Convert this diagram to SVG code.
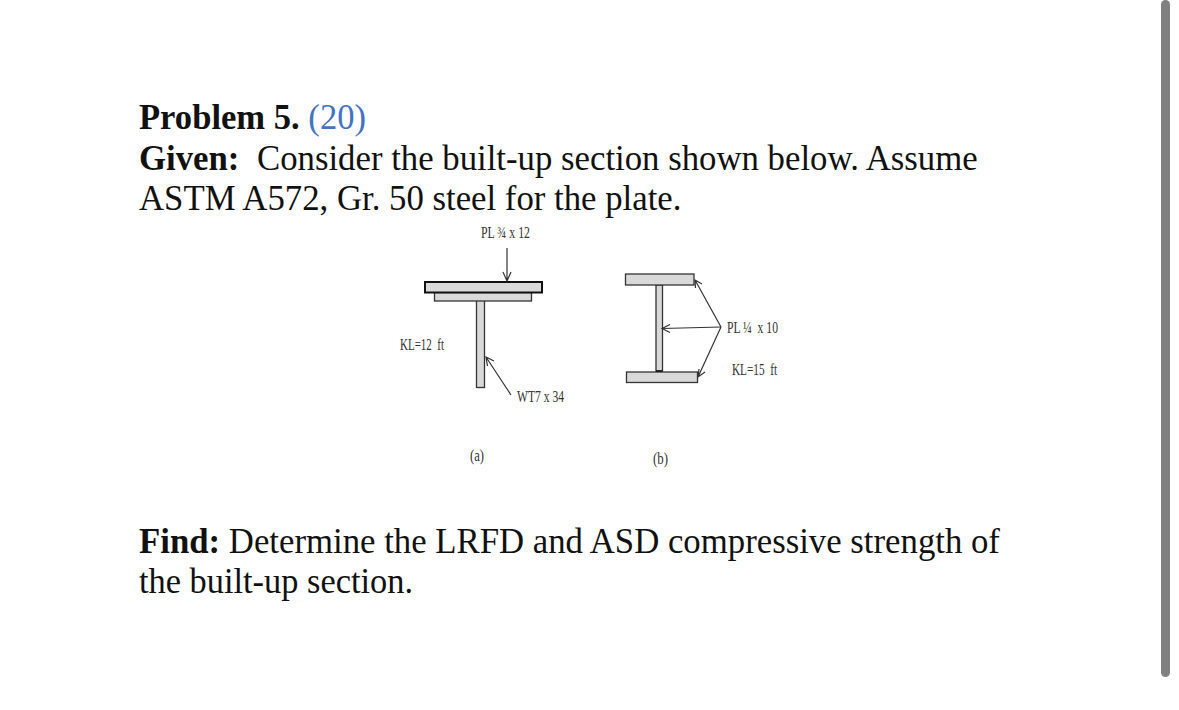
<svg xmlns="http://www.w3.org/2000/svg" width="1179" height="710" viewBox="0 0 1179 710">
<style>
.t{font-family:"Liberation Serif","Times New Roman",serif;font-size:34.75px;fill:#111}
.b{font-weight:bold}
.s{font-family:"Liberation Serif","Times New Roman",serif;font-size:17px;fill:#333;white-space:pre}
.p{fill:#d9d9d9;stroke:#333;stroke-width:1.3}
.c{fill:none;stroke:#333;stroke-width:1.2}
</style>
<rect width="1179" height="710" fill="#fff"/>
<rect id="scrollbar" x="1161" y="0" width="9" height="677" rx="4.5" fill="#808080"/>
<g id="text">
<text class="t" x="139" y="128.500" textLength="227" lengthAdjust="spacingAndGlyphs"><tspan class="b">Problem 5.</tspan> <tspan fill="#4472c4">(20)</tspan></text>
<text class="t" x="139" y="169.500"><tspan class="b">Given:</tspan><tspan x="257">Consider the built-up section shown below. Assume</tspan></text>
<text class="t" x="139" y="210">ASTM A572, Gr. 50 steel for the plate.</text>
<text class="t" x="139" y="552.500"><tspan class="b">Find:</tspan> Determine the LRFD and ASD compressive strength of</text>
<text class="t" x="139" y="592.500" textLength="274" lengthAdjust="spacingAndGlyphs">the built-up section.</text>
</g>
<g id="section-a">
<rect class="p" x="476.500" y="300" width="8" height="87.500"/>
<rect class="p" x="434.500" y="292.500" width="97" height="8.500"/>
<rect x="425" y="282" width="117" height="10.500" fill="#d9d9d9" stroke="#111" stroke-width="2"/>
</g>
<g id="section-b">
<rect class="p" x="656" y="285" width="6.500" height="86"/>
<rect class="p" x="625.500" y="274" width="68.500" height="11"/>
<rect class="p" x="626.500" y="372" width="71" height="10.500"/>
<line x1="656" y1="371" x2="662.500" y2="371" stroke="#111" stroke-width="1.500"/>
</g>
<g id="connectors">
<path class="c" d="M507 248V281M503 272L507 281L511 272"/>
<path class="c" d="M511 395L486 357M487.500 366L486 357L494 361"/>
<path class="c" d="M721 327L695 280M695.500 288L695 280L702 284"/>
<path class="c" d="M721 327L662 328.500M670 324.500L662 328.500L670 332.500"/>
<path class="c" d="M721 327L698 377M699 369L698 377L705 372"/>
</g>
<g id="labels">
<text class="s" x="481" y="238" textLength="49" lengthAdjust="spacingAndGlyphs">PL ¾ x 12</text>
<text class="s" x="400" y="350" textLength="44" lengthAdjust="spacingAndGlyphs">KL=12  ft</text>
<text class="s" x="517" y="402" textLength="47" lengthAdjust="spacingAndGlyphs">WT7 x 34</text>
<text class="s" x="727" y="333" textLength="51" lengthAdjust="spacingAndGlyphs">PL ¼  x 10</text>
<text class="s" x="732" y="375" textLength="45" lengthAdjust="spacingAndGlyphs">KL=15  ft</text>
<text class="s" x="470" y="461" textLength="14" lengthAdjust="spacingAndGlyphs">(a)</text>
<text class="s" x="653" y="464" textLength="15" lengthAdjust="spacingAndGlyphs">(b)</text>
</g>
</svg>
